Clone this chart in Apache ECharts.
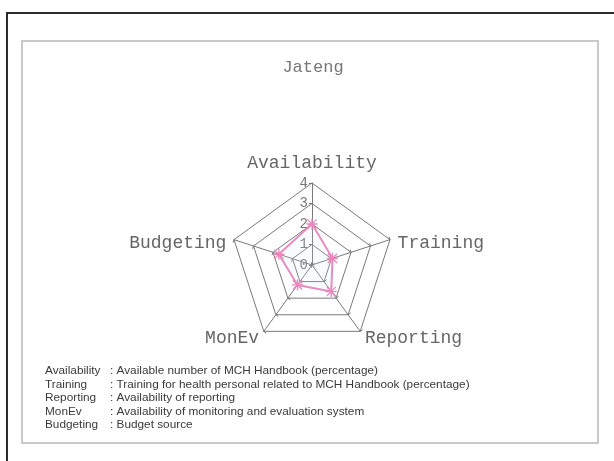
<!DOCTYPE html>
<html>
<head>
<meta charset="utf-8">
<script src="https://cdn.jsdelivr.net/npm/echarts@6/dist/echarts.min.js"></script>
<style>
  html, body { margin: 0; padding: 0; background: #fff; }
  #main { width: 614px; height: 461px; }
</style>
</head>
<body>
<div id="main"></div>
<script>
// indicators in drawing order (counter-clockwise from the top)
var axisNames = ['Availability', 'Budgeting', 'MonEv', 'Reporting', 'Training'];
var jatengValues = [2.0, 1.7, 1.2, 1.6, 1.05];
var axisMax = 4;

// notes under the chart
var noteKeys = ['Availability', 'Training', 'Reporting', 'MonEv', 'Budgeting'];
var noteTexts = [
    ': Available number of MCH Handbook (percentage)',
    ': Training for health personal related to MCH Handbook (percentage)',
    ': Availability of reporting',
    ': Availability of monitoring and evaluation system',
    ': Budget source'
];

var myChart = echarts.init(document.getElementById('main'));

var monoFont = '"Liberation Mono", "DejaVu Sans Mono", monospace';
var noteFont = '11.8px "Liberation Sans", Arial, sans-serif';

var graphics = [
    // outer black frame (runs off the right/bottom edge)
    {type: 'rect', shape: {x: 7, y: 13, width: 700, height: 500}, style: {fill: 'none', stroke: '#2a2a2a', lineWidth: 2}, silent: true},
    // inner grey box
    {type: 'rect', shape: {x: 22, y: 41, width: 576, height: 402}, style: {fill: 'none', stroke: '#b8b8b8', lineWidth: 1.5}, silent: true}
];
noteKeys.forEach(function (k, i) {
    var y = 371 + i * 13.5;
    graphics.push({type: 'text', x: 45, y: y, style: {text: k, fill: '#3a3a3a', font: noteFont, textVerticalAlign: 'middle'}, silent: true});
    graphics.push({type: 'text', x: 110, y: y, style: {text: noteTexts[i], fill: '#3a3a3a', font: noteFont, textVerticalAlign: 'middle'}, silent: true});
});

var indicators = axisNames.map(function (n, i) {
    var ind = {name: n, max: axisMax, min: 0};
    if (i === 0) {
        ind.axisLabel = {show: true};
    }
    return ind;
});

var option = {
    backgroundColor: '#fff',
    animation: false,
    title: {
        text: 'Jateng',
        left: 308,
        top: 54,
        textAlign: 'center',
        textStyle: {fontFamily: monoFont, fontSize: 17, fontWeight: 'normal', color: '#777'}
    },
    graphic: graphics,
    radar: {
        center: [312, 265],
        radius: 82,
        splitNumber: 4,
        shape: 'polygon',
        nameGap: 8,
        axisName: {
            fontFamily: monoFont,
            fontSize: 18,
            color: '#666',
            formatter: function (name) {
                if (name === 'Training' || name === 'Budgeting') {
                    return '{side|' + name + '}';
                }
                if (name === 'Availability') {
                    return '{top|' + name + '}';
                }
                return name;
            },
            rich: {
                side: {fontFamily: monoFont, fontSize: 18, color: '#666', padding: [13, 0, 0, 0]},
                top: {fontFamily: monoFont, fontSize: 18, color: '#666', padding: [0, 0, 3, 0]}
            }
        },
        indicator: indicators,
        axisLine: {lineStyle: {color: '#7a7a7a', width: 1}},
        splitLine: {lineStyle: {color: '#7a7a7a', width: 1}},
        splitArea: {show: false},
        axisTick: {show: true, length: 3, lineStyle: {color: '#777'}},
        axisLabel: {show: false, fontFamily: monoFont, fontSize: 14, color: '#777', margin: 4}
    },
    series: [{
        type: 'radar',
        symbol: 'path://M4.4,0L5.6,0L5.6,10L4.4,10Z M0,4.4L10,4.4L10,5.6L0,5.6Z M1.2,0.4L9.6,8.8L8.8,9.6L0.4,1.2Z M8.8,0.4L9.6,1.2L1.2,9.6L0.4,8.8Z',
        symbolSize: 11,
        lineStyle: {color: '#ea86bc', width: 2},
        itemStyle: {color: '#ea86bc'},
        areaStyle: {color: 'rgba(205,235,248,0.2)'},
        data: [{value: jatengValues, name: 'Jateng'}]
    }]
};

myChart.setOption(option);
</script>
</body>
</html>
